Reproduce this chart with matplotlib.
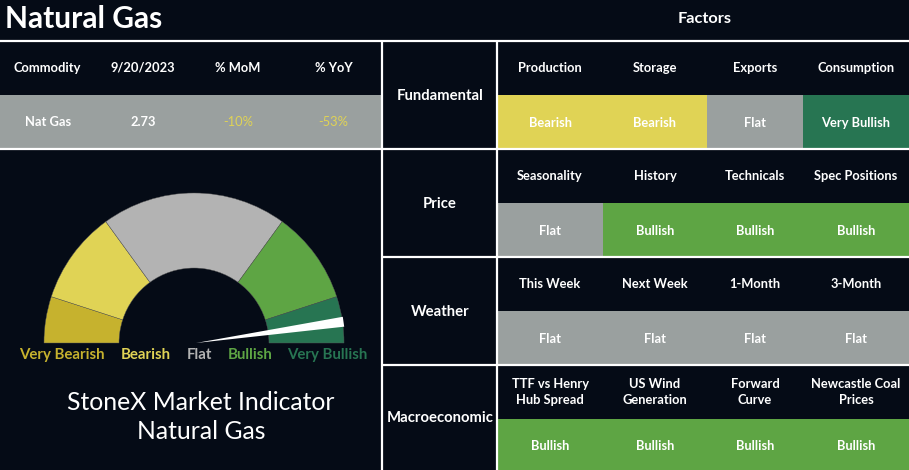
import matplotlib
matplotlib.use("Agg")
import matplotlib.pyplot as plt
from matplotlib.patches import Rectangle, Wedge, Polygon
import numpy as np

# ---------------- data ----------------
title = "Natural Gas"
factors_title = "Factors"
left_headers = ["Commodity", "9/20/2023", "% MoM", "% YoY"]
left_values = ["Nat Gas", "2.73", "-10%", "-53%"]

categories = ["Fundamental", "Price", "Weather", "Macroeconomic"]
factor_names = [
    ["Production", "Storage", "Exports", "Consumption"],
    ["Seasonality", "History", "Technicals", "Spec Positions"],
    ["This Week", "Next Week", "1-Month", "3-Month"],
    ["TTF vs Henry\nHub Spread", "US Wind\nGeneration", "Forward\nCurve", "Newcastle Coal\nPrices"],
]
signals = [
    ["Bearish", "Bearish", "Flat", "Very Bullish"],
    ["Flat", "Bullish", "Bullish", "Bullish"],
    ["Flat", "Flat", "Flat", "Flat"],
    ["Bullish", "Bullish", "Bullish", "Bullish"],
]

gauge_levels = ["Very Bearish", "Bearish", "Flat", "Bullish", "Very Bullish"]
gauge_shares = [10, 20, 40, 20, 10]
gauge_value = 95.5  # needle position, 0..100
indicator_text = "StoneX Market Indicator\nNatural Gas"

# ---------------- style ----------------
BG = "#050b16"
WHITE = "#ffffff"
cell_colors = {"Very Bearish": "#c6b22e", "Bearish": "#e0d355", "Flat": "#9aa09f",
               "Bullish": "#5ea544", "Very Bullish": "#277552"}
gauge_colors = ["#c6b22e", "#e0d355", "#b3b3b3", "#5ea544", "#277552"]
label_colors = ["#c6b22e", "#e0d355", "#b3b3b3", "#5ea544", "#277552"]
FONT = ["Lato", "DejaVu Sans"]
plt.rcParams["font.family"] = FONT

W, H = 909, 470
fig = plt.figure(figsize=(W / 100, H / 100), dpi=100, facecolor=BG)
ax = fig.add_axes([0, 0, 1, 1])
ax.set_xlim(0, W)
ax.set_ylim(H, 0)
ax.axis("off")
ax.set_facecolor(BG)

# title
ax.text(5, 19, title, color=WHITE, fontsize=21.5, fontweight="bold", ha="left", va="center")
ax.text(705, 19, factors_title, color=WHITE, fontsize=11.8, fontweight="bold", ha="center", va="center")

# ---------------- left table ----------------
lcols = np.linspace(0, 381, len(left_headers) + 1)
lcent = (lcols[:-1] + lcols[1:]) / 2
ax.add_patch(Rectangle((0, 95), 381, 53, facecolor=cell_colors["Flat"], edgecolor="none"))
for i, (h, v) in enumerate(zip(left_headers, left_values)):
    ax.text(lcent[i], 68, h, color=WHITE, fontsize=9.3, fontweight="bold", ha="center", va="center")
    vc = WHITE if i < 2 else cell_colors["Bearish"]
    ax.text(lcent[i], 122, v, color=vc, fontsize=9.3, fontweight="bold" if i < 2 else "normal",
            ha="center", va="center")

# ---------------- right grid ----------------
rcols = [497, 603, 707, 803, 909]
row_tops = [41, 149, 257, 365]
row_bots = [149, 257, 365, 470]
for r, cat in enumerate(categories):
    top, bot = row_tops[r], row_bots[r]
    mid = top + 54
    ax.text(440, (top + bot) / 2 + 1, cat, color=WHITE, fontsize=10.7, fontweight="bold",
            ha="center", va="center")
    for c in range(4):
        xl, xr = rcols[c], rcols[c + 1]
        ax.add_patch(Rectangle((xl, mid), xr - xl, bot - mid,
                               facecolor=cell_colors[signals[r][c]], edgecolor="none"))
        xc = (xl + xr) / 2
        ax.text(xc, top + 27, factor_names[r][c], color=WHITE, fontsize=9.3, fontweight="bold",
                ha="center", va="center", linespacing=1.35)
        ax.text(xc, (mid + bot) / 2 + 1, signals[r][c], color=WHITE, fontsize=9.3,
                fontweight="bold", ha="center", va="center")

# lines
LW = 1.6
ax.plot([0, W], [41, 41], color=WHITE, lw=LW, solid_capstyle="butt")
ax.plot([0, W], [149, 149], color=WHITE, lw=LW, solid_capstyle="butt")
for y in [257, 365]:
    ax.plot([382, W], [y, y], color=WHITE, lw=LW, solid_capstyle="butt")
for x in [382, 497]:
    ax.plot([x, x], [41, H], color=WHITE, lw=LW, solid_capstyle="butt")

# ---------------- gauge ----------------
cx, cy, Ro, Ri = 194, 343, 150, 75
bounds = np.concatenate([[0], np.cumsum(gauge_shares)]) / sum(gauge_shares)
for i in range(len(gauge_levels)):
    a_start = 180 - 180 * bounds[i]      # visual angle
    a_end = 180 - 180 * bounds[i + 1]
    # y axis inverted -> negate angles
    ax.add_patch(Wedge((cx, cy), Ro, -a_start, -a_end, width=Ro - Ri,
                       facecolor=gauge_colors[i], edgecolor="#555555", lw=0.3))
ang = np.deg2rad(180 - 1.8 * gauge_value)
d = np.array([np.cos(ang), -np.sin(ang)])
p = np.array([d[1], -d[0]])
tip = np.array([cx, cy]) + d * (Ro + 1)
needle = Polygon([[cx + 2, cy], tip + p * 5, tip - p * 5], closed=True,
                 facecolor=WHITE, edgecolor="none")
ax.add_patch(needle)

label_x = [62, 146, 199, 250, 327]
for i, lab in enumerate(gauge_levels):
    ax.text(label_x[i], 355, lab, color=label_colors[i], fontsize=10.8, fontweight="bold",
            ha="center", va="center")

ax.text(201, 417, indicator_text, color=WHITE, fontsize=17.8, ha="center", va="center",
        linespacing=1.33)

fig.savefig("out.png", dpi=100, facecolor=BG)
